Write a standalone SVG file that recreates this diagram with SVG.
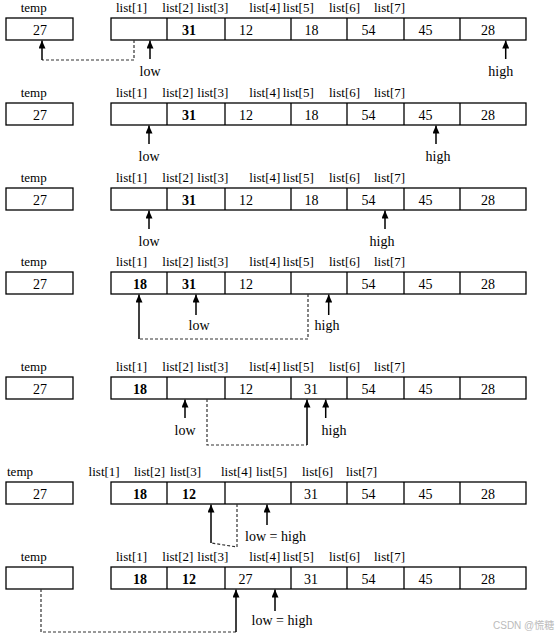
<svg xmlns="http://www.w3.org/2000/svg" width="557" height="636" viewBox="0 0 557 636">
<defs>
<style>
.box{fill:#fff;stroke:#000;stroke-width:1.3}
.div{stroke:#000;stroke-width:1.3}
.lbl{font-family:"Liberation Serif",serif;font-size:13px;fill:#000}
.val{font-family:"Liberation Serif",serif;font-size:14px;fill:#000;text-anchor:middle}
.b{font-weight:bold}
.al{font-family:"Liberation Serif",serif;font-size:14px;fill:#000;text-anchor:middle}
.arr{fill:none;stroke:#000;stroke-width:1.5;marker-end:url(#ah)}
.dash{fill:none;stroke:#333;stroke-width:1.2;stroke-dasharray:3 2}
.wm{font-family:"Liberation Sans","Noto Sans CJK SC",sans-serif;font-size:10px;fill:#bbb}
</style>
<marker id="ah" markerUnits="userSpaceOnUse" markerWidth="8" markerHeight="7" refX="8" refY="3.5" orient="auto">
<path d="M0,0 L8,3.5 L0,7 z" fill="#000"/>
</marker>
</defs>

<!-- Row 1 -->
<g id="row1">
<text class="lbl" x="20.7" y="12">temp</text>
<text class="lbl" x="116" y="12">list[1]</text>
<text class="lbl" x="162.3" y="12">list[2]</text>
<text class="lbl" x="197.3" y="12">list[3]</text>
<text class="lbl" x="249.3" y="12">list[4]</text>
<text class="lbl" x="282.7" y="12">list[5]</text>
<text class="lbl" x="329" y="12">list[6]</text>
<text class="lbl" x="374" y="12">list[7]</text>
<g id="temp1"><rect class="box" x="6" y="18" width="67" height="22"/><text class="val" x="40" y="35">27</text></g>
<g id="list1">
<rect class="box" x="111" y="18" width="415" height="22"/>
<path class="div" d="M167,18V40M225,18V40M291,18V40M347,18V40M404,18V40M460,18V40"/>
<text class="val b" x="189" y="35">31</text>
<text class="val" x="246" y="35">12</text>
<text class="val" x="311.5" y="35">18</text>
<text class="val" x="368.5" y="35">54</text>
<text class="val" x="425.5" y="35">45</text>
<text class="val" x="488" y="35">28</text>
</g>
<text class="al" x="150" y="76">low</text>
<text class="al" x="500.7" y="76">high</text>
</g>

<!-- Row 2 -->
<g id="row2">
<text class="lbl" x="20.7" y="97">temp</text>
<text class="lbl" x="116" y="97">list[1]</text>
<text class="lbl" x="162.3" y="97">list[2]</text>
<text class="lbl" x="197.3" y="97">list[3]</text>
<text class="lbl" x="249.3" y="97">list[4]</text>
<text class="lbl" x="282.7" y="97">list[5]</text>
<text class="lbl" x="329" y="97">list[6]</text>
<text class="lbl" x="374" y="97">list[7]</text>
<g id="temp2"><rect class="box" x="6" y="103" width="67" height="22"/><text class="val" x="40" y="120">27</text></g>
<g id="list2">
<rect class="box" x="111" y="103" width="415" height="22"/>
<path class="div" d="M167,103V125M225,103V125M291,103V125M347,103V125M404,103V125M460,103V125"/>
<text class="val b" x="189" y="120">31</text>
<text class="val" x="246" y="120">12</text>
<text class="val" x="311.5" y="120">18</text>
<text class="val" x="368.5" y="120">54</text>
<text class="val" x="425.5" y="120">45</text>
<text class="val" x="488" y="120">28</text>
</g>
<text class="al" x="149" y="161">low</text>
<text class="al" x="438" y="161">high</text>
</g>

<!-- Row 3 -->
<g id="row3">
<text class="lbl" x="20.7" y="182">temp</text>
<text class="lbl" x="116" y="182">list[1]</text>
<text class="lbl" x="162.3" y="182">list[2]</text>
<text class="lbl" x="197.3" y="182">list[3]</text>
<text class="lbl" x="249.3" y="182">list[4]</text>
<text class="lbl" x="282.7" y="182">list[5]</text>
<text class="lbl" x="329" y="182">list[6]</text>
<text class="lbl" x="374" y="182">list[7]</text>
<g id="temp3"><rect class="box" x="6" y="188" width="67" height="22"/><text class="val" x="40" y="205">27</text></g>
<g id="list3">
<rect class="box" x="111" y="188" width="415" height="22"/>
<path class="div" d="M167,188V210M225,188V210M291,188V210M347,188V210M404,188V210M460,188V210"/>
<text class="val b" x="189" y="205">31</text>
<text class="val" x="246" y="205">12</text>
<text class="val" x="311.5" y="205">18</text>
<text class="val" x="368.5" y="205">54</text>
<text class="val" x="425.5" y="205">45</text>
<text class="val" x="488" y="205">28</text>
</g>
<text class="al" x="149" y="246">low</text>
<text class="al" x="382" y="246">high</text>
</g>

<!-- Row 4 -->
<g id="row4">
<text class="lbl" x="20.7" y="266">temp</text>
<text class="lbl" x="116" y="266">list[1]</text>
<text class="lbl" x="162.3" y="266">list[2]</text>
<text class="lbl" x="197.3" y="266">list[3]</text>
<text class="lbl" x="249.3" y="266">list[4]</text>
<text class="lbl" x="282.7" y="266">list[5]</text>
<text class="lbl" x="329" y="266">list[6]</text>
<text class="lbl" x="374" y="266">list[7]</text>
<g id="temp4"><rect class="box" x="6" y="272" width="67" height="22"/><text class="val" x="40" y="289">27</text></g>
<g id="list4">
<rect class="box" x="111" y="272" width="415" height="22"/>
<path class="div" d="M167,272V294M225,272V294M291,272V294M347,272V294M404,272V294M460,272V294"/>
<text class="val b" x="140" y="289">18</text>
<text class="val b" x="189" y="289">31</text>
<text class="val" x="246" y="289">12</text>
<text class="val" x="368.5" y="289">54</text>
<text class="val" x="425.5" y="289">45</text>
<text class="val" x="488" y="289">28</text>
</g>
<text class="al" x="199" y="330">low</text>
<text class="al" x="327" y="330">high</text>
</g>

<!-- Row 5 -->
<g id="row5">
<text class="lbl" x="20.7" y="371">temp</text>
<text class="lbl" x="116" y="371">list[1]</text>
<text class="lbl" x="162.3" y="371">list[2]</text>
<text class="lbl" x="197.3" y="371">list[3]</text>
<text class="lbl" x="249.3" y="371">list[4]</text>
<text class="lbl" x="282.7" y="371">list[5]</text>
<text class="lbl" x="329" y="371">list[6]</text>
<text class="lbl" x="374" y="371">list[7]</text>
<g id="temp5"><rect class="box" x="6" y="377" width="67" height="22"/><text class="val" x="40" y="394">27</text></g>
<g id="list5">
<rect class="box" x="111" y="377" width="415" height="22"/>
<path class="div" d="M167,377V399M225,377V399M291,377V399M347,377V399M404,377V399M460,377V399"/>
<text class="val b" x="140" y="394">18</text>
<text class="val" x="246" y="394">12</text>
<text class="val" x="311" y="394">31</text>
<text class="val" x="368.5" y="394">54</text>
<text class="val" x="425.5" y="394">45</text>
<text class="val" x="488" y="394">28</text>
</g>
<text class="al" x="185" y="435">low</text>
<text class="al" x="334" y="435">high</text>
</g>

<!-- Row 6 -->
<g id="row6">
<text class="lbl" x="7" y="476">temp</text>
<text class="lbl" x="88.6" y="476">list[1]</text>
<text class="lbl" x="134" y="476">list[2]</text>
<text class="lbl" x="170" y="476">list[3]</text>
<text class="lbl" x="221" y="476">list[4]</text>
<text class="lbl" x="256" y="476">list[5]</text>
<text class="lbl" x="302" y="476">list[6]</text>
<text class="lbl" x="346" y="476">list[7]</text>
<g id="temp6"><rect class="box" x="6" y="482" width="67" height="22"/><text class="val" x="40" y="499">27</text></g>
<g id="list6">
<rect class="box" x="111" y="482" width="415" height="22"/>
<path class="div" d="M167,482V504M225,482V504M291,482V504M347,482V504M404,482V504M460,482V504"/>
<text class="val b" x="140" y="499">18</text>
<text class="val b" x="189" y="499">12</text>
<text class="val" x="311" y="499">31</text>
<text class="val" x="368.5" y="499">54</text>
<text class="val" x="425.5" y="499">45</text>
<text class="val" x="488" y="499">28</text>
</g>
<text class="al" x="275.5" y="541">low = high</text>
</g>

<!-- Row 7 -->
<g id="row7">
<text class="lbl" x="20.7" y="561">temp</text>
<text class="lbl" x="116" y="561">list[1]</text>
<text class="lbl" x="162.3" y="561">list[2]</text>
<text class="lbl" x="197.3" y="561">list[3]</text>
<text class="lbl" x="249.3" y="561">list[4]</text>
<text class="lbl" x="282.7" y="561">list[5]</text>
<text class="lbl" x="329" y="561">list[6]</text>
<text class="lbl" x="374" y="561">list[7]</text>
<g id="temp7"><rect class="box" x="6" y="567" width="67" height="22"/></g>
<g id="list7">
<rect class="box" x="111" y="567" width="415" height="22"/>
<path class="div" d="M167,567V589M225,567V589M291,567V589M347,567V589M404,567V589M460,567V589"/>
<text class="val b" x="140" y="584">18</text>
<text class="val b" x="189" y="584">12</text>
<text class="val" x="245.5" y="584">27</text>
<text class="val" x="311" y="584">31</text>
<text class="val" x="368.5" y="584">54</text>
<text class="val" x="425.5" y="584">45</text>
<text class="val" x="488" y="584">28</text>
</g>
<text class="al" x="282" y="625">low = high</text>
</g>

<g id="connectors">
<!-- row 1 -->
<path class="dash" d="M134,40V60H42"/>
<path class="arr" d="M42,60V40.5"/>
<path class="arr" d="M150,59V40.5"/>
<path class="arr" d="M505.7,59V40.5"/>
<!-- row 2 -->
<path class="arr" d="M149,144V125.5"/>
<path class="arr" d="M436,144V125.5"/>
<!-- row 3 -->
<path class="arr" d="M149,229V210.5"/>
<path class="arr" d="M385,229V210.5"/>
<!-- row 4 -->
<path class="dash" d="M308,294V339H139"/>
<path class="arr" d="M139,339V294.5"/>
<path class="arr" d="M196,315V294.5"/>
<path class="arr" d="M328.7,315V294.5"/>
<!-- row 5 -->
<path class="dash" d="M207,399V445H307"/>
<path class="arr" d="M307,445V399.5"/>
<path class="arr" d="M185,418V399.5"/>
<path class="arr" d="M325.7,418V399.5"/>
<!-- row 6 -->
<path class="dash" d="M237,504V547L211,543"/>
<path class="arr" d="M211,543V504.5"/>
<path class="arr" d="M267,525V504.5"/>
<!-- row 7 -->
<path class="dash" d="M41,589V632H236"/>
<path class="arr" d="M236,632V589.5"/>
<path class="arr" d="M275,611V589.5"/>
</g>

<text class="wm" x="493" y="629">CSDN @慌糖</text>
</svg>
